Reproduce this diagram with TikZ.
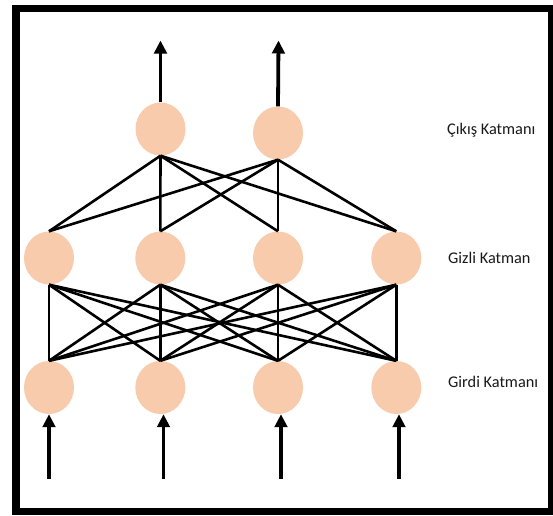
\documentclass[tikz,border=0pt]{standalone}
\usepackage{fontspec}
\setmainfont{Carlito}
\usetikzlibrary{shapes.geometric,arrows.meta}
\definecolor{peach}{HTML}{F8CBAD}
\begin{document}
\begin{tikzpicture}[x=1pt,y=-1pt,
  neuron/.style={ellipse,fill=peach,draw=none,minimum width=50pt,minimum height=53pt,inner sep=0pt},
  conn/.style={line width=2.6pt,black},
  io/.style={line width=3.8pt,black,-{Triangle[width=12.5pt,length=13pt]}},
  lbl/.style={anchor=west,font=\fontsize{16.3}{19}\selectfont,text=black!90,inner sep=0pt}]
\useasboundingbox (0,0) rectangle (553,515);
\draw[line width=7.5pt] (16,8.4) rectangle (552,511.5);
% output layer
\node[neuron] (o1) at (160.5,129) {};
\node[neuron] (o2) at (278,133) {};
% hidden layer
\node[neuron] (h1) at (49,258) {};
\node[neuron] (h2) at (160.3,258) {};
\node[neuron] (h3) at (278,258) {};
\node[neuron] (h4) at (396.3,258) {};
% input layer
\node[neuron] (i1) at (49,387.5) {};
\node[neuron] (i2) at (160.3,387.5) {};
\node[neuron] (i3) at (278,387.5) {};
\node[neuron] (i4) at (396.3,387.5) {};
% labels
\node[lbl] (lo) at (447,130) {Çıkış Katmanı};
\node[lbl] (lh) at (448,258) {Gizli Katman};
\node[lbl] (li) at (448,382) {Girdi Katmanı};
% connections hidden -> input
\foreach \a in {1,2,3,4}{
  \foreach \b in {1,2,3,4}{
    \draw[conn] (h\a.south) -- (i\b.north);
  }
}
% connections output -> hidden
\foreach \a in {1,2}{
  \foreach \b in {1,2,3,4}{
    \draw[conn] (o\a.south) -- (h\b.north);
  }
}
% output arrows
\coordinate (t1) at (160.5,40.5);
\coordinate (t2) at (278.5,40.5);
\draw[io] (o1.north) -- (t1);
\draw[io] (o2.north) -- (t2);
% input arrows
\coordinate (b1) at (49,478.5);
\coordinate (b2) at (163.5,478.5);
\coordinate (b3) at (281,478.5);
\coordinate (b4) at (399,478.5);
\draw[io] (b1) -- (b1 |- i1.south);
\draw[io] (b2) -- (b2 |- i2.south);
\draw[io] (b3) -- (b3 |- i3.south);
\draw[io] (b4) -- (b4 |- i4.south);
\end{tikzpicture}
\end{document}
